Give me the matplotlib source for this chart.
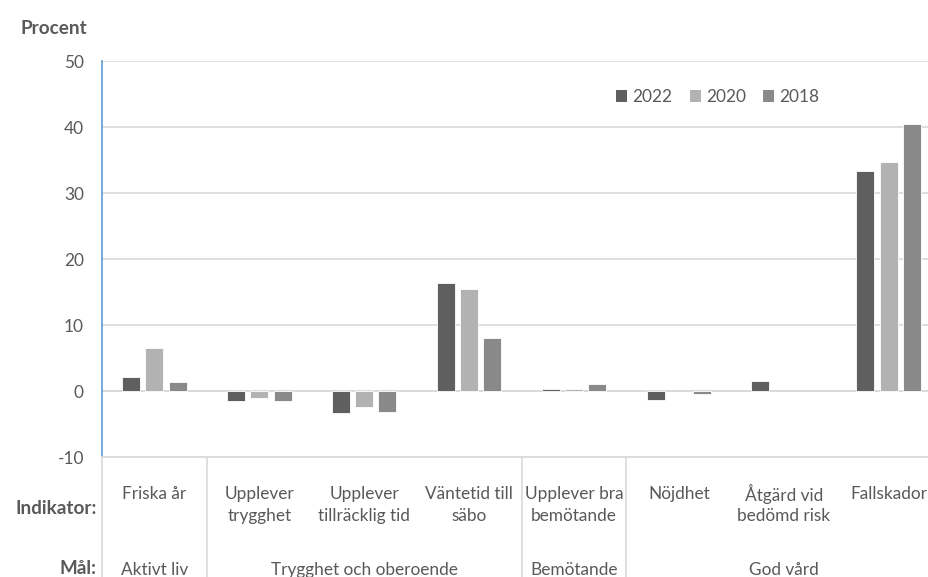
import numpy as np
import matplotlib
matplotlib.use("Agg")
import matplotlib.pyplot as plt
from matplotlib.transforms import blended_transform_factory
from matplotlib.lines import Line2D
from matplotlib.patches import Patch

plt.rcParams['font.family'] = ['Lato', 'DejaVu Sans']

# Indicators (x categories) and their goal groups
indicators = ["Friska år", "Upplever\ntrygghet", "Upplever\ntillräcklig tid",
              "Väntetid till\nsäbo", "Upplever bra\nbemötande", "Nöjdhet",
              "Åtgärd vid\nbedömd risk", "Fallskador"]
goals = ["Aktivt liv", "Trygghet och oberoende", "Bemötande", "God vård"]
goal_spans = [(0, 0), (1, 3), (4, 4), (5, 7)]

years = ["2022", "2020", "2018"]
v2022 = [2.1, -1.5, -3.4, 16.3, 0.3, -1.3, 1.55, 33.3]
v2020 = [6.5, -1.1, -2.4, 15.5, 0.25, np.nan, np.nan, 34.7]
v2018 = [1.3, -1.5, -3.2, 8.0, 1.0, -0.45, np.nan, 40.4]
series = [v2022, v2020, v2018]
colors = ["#5F5F5F", "#B2B2B2", "#898989"]

yticks = [-10, 0, 10, 20, 30, 40, 50]

text_col = "#595959"
grid_col = "#D9D9D9"
fs = 12.4
fs_bold = 13.6

W, H = 929, 577
fig = plt.figure(figsize=(W / 100, H / 100), dpi=100)
left_px, right_px, top_px, bot_px = 102, 941, 61, 457
ax = fig.add_axes([left_px / W, 1 - bot_px / H,
                   (right_px - left_px) / W, (bot_px - top_px) / H])

x = np.arange(len(indicators))
step = 0.222
width = 0.172
for i, (vals, c, yr) in enumerate(zip(series, colors, years)):
    ax.bar(x + (i - 1) * step, vals, width=width, color=c,
           edgecolor="white", linewidth=0.6, label=yr, zorder=3)

ax.set_xlim(-0.5, len(indicators) - 0.5)
ax.set_ylim(-10, 50)
ax.set_yticks(yticks)
ax.set_yticklabels([str(t) for t in yticks], fontsize=fs, color=text_col)
ax.tick_params(axis="y", length=0, pad=13)
ax.set_xticks([])
ax.grid(axis="y", color=grid_col, linewidth=1.2, zorder=0)
ax.set_axisbelow(True)
for s in ["top", "right"]:
    ax.spines[s].set_visible(False)
ax.spines["left"].set_color("#5B9BD5")
ax.spines["left"].set_linewidth(1.2)
ax.spines["bottom"].set_color(grid_col)
ax.spines["bottom"].set_linewidth(1.2)
ax.axhline(0, color=grid_col, linewidth=1.2, zorder=2)

# Category axis: indicator labels and goal labels below the plot
tr = blended_transform_factory(ax.transData, fig.transFigure)
def fy(px):
    return 1 - px / H

for xi, lab in zip(x, indicators):
    for j, line in enumerate(lab.split("\n")):
        fig.text(xi, fy(494 + 22 * j), line, transform=tr, ha="center",
                 va="center", fontsize=fs, color=text_col)

for (a, b), g in zip(goal_spans, goals):
    fig.text((a + b) / 2, fy(570), g, transform=tr, ha="center",
             va="center", fontsize=fs, color=text_col)

# Separators between goal groups
for xs in [-0.5, 0.5, 3.5, 4.5]:
    fig.add_artist(Line2D([xs, xs], [fy(bot_px), 0], transform=tr,
                          color=grid_col, linewidth=1.2))

fig.text(97 / W, fy(509), "Indikator:", ha="right", va="center",
         fontsize=fs_bold, fontweight="bold", color=text_col)
fig.text(97 / W, fy(568), "Mål:", ha="right", va="center",
         fontsize=fs_bold, fontweight="bold", color=text_col)
fig.text(21 / W, fy(28), "Procent", ha="left", va="center",
         fontsize=fs_bold, fontweight="bold", color=text_col)

handles = [Patch(facecolor=c, edgecolor="none") for c in colors]
ax.legend(handles, years, loc="center left", bbox_to_anchor=(616 / W, fy(97)),
          bbox_transform=fig.transFigure, ncol=3, frameon=False,
          fontsize=fs, labelcolor=text_col, handlelength=0.65,
          handleheight=0.65, handletextpad=0.3, columnspacing=1.0,
          borderpad=0, borderaxespad=0)

fig.savefig("out.png", dpi=100)
